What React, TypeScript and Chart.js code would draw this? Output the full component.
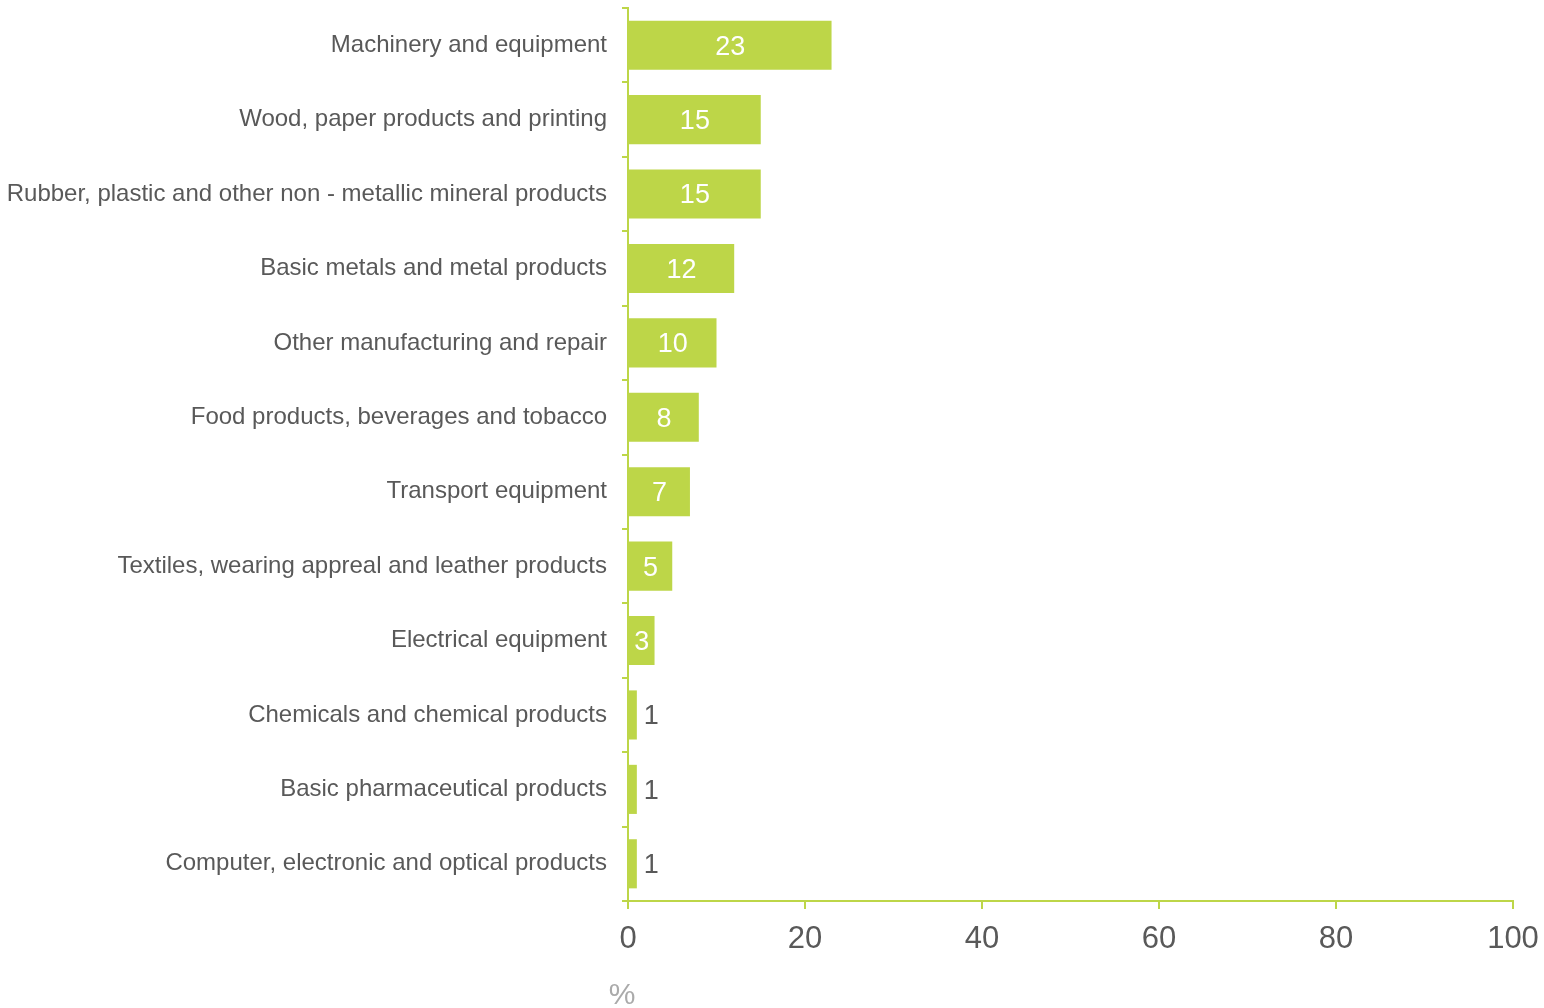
import React, { useEffect, useRef } from "react";
import { Chart, registerables } from "chart.js";

Chart.register(...registerables);

const categories = [
  "Machinery and equipment",
  "Wood, paper products and printing",
  "Rubber, plastic and other non - metallic mineral products",
  "Basic metals and metal products",
  "Other manufacturing and repair",
  "Food products, beverages and tobacco",
  "Transport equipment",
  "Textiles, wearing appreal and leather products",
  "Electrical equipment",
  "Chemicals and chemical products",
  "Basic pharmaceutical products",
  "Computer, electronic and optical products",
];
const values = [23, 15, 15, 12, 10, 8, 7, 5, 3, 1, 1, 1];
const xTicks = [0, 20, 40, 60, 80, 100];
const unitLabel = "%";

const GREEN = "#BDD648";
const TEXT = "#595959";
const FONT = "'Liberation Sans', Arial, sans-serif";

const labelPlugin = {
  id: "valueLabels",
  afterDatasetsDraw(chart: any) {
    const { ctx } = chart;
    const meta = chart.getDatasetMeta(0);
    ctx.save();
    ctx.font = `27px ${FONT}`;
    ctx.textBaseline = "middle";
    meta.data.forEach((bar: any, i: number) => {
      const v = values[i];
      const left = bar.base;
      const right = bar.x;
      if (v >= 3) {
        ctx.fillStyle = "#ffffff";
        ctx.textAlign = "center";
        ctx.fillText(String(v), (left + right) / 2, bar.y + 2);
      } else {
        ctx.fillStyle = TEXT;
        ctx.textAlign = "left";
        ctx.fillText(String(v), right + 7, bar.y + 2);
      }
    });
    ctx.restore();
  },
  afterDraw(chart: any) {
    const { ctx } = chart;
    const x = chart.scales.x.getPixelForValue(0) - 6;
    ctx.save();
    ctx.font = `30px ${FONT}`;
    ctx.fillStyle = "#AAAAAA";
    ctx.textAlign = "center";
    ctx.textBaseline = "middle";
    ctx.fillText(unitLabel, x, 996);
    ctx.restore();
  },
};

export default function App() {
  const ref = useRef<HTMLCanvasElement>(null);
  useEffect(() => {
    if (!ref.current) return;
    const chart = new Chart(ref.current, {
      type: "bar",
      data: {
        labels: categories,
        datasets: [
          {
            data: values,
            backgroundColor: GREEN,
            borderWidth: 0,
            categoryPercentage: 1,
            barPercentage: 0.66,
          },
        ],
      },
      options: {
        indexAxis: "y",
        animation: false,
        responsive: false,
        maintainAspectRatio: false,
        layout: { padding: { top: 8, right: 31, bottom: 0, left: 0 } },
        plugins: {
          legend: { display: false },
          tooltip: { enabled: false },
        },
        scales: {
          y: {
            type: "category",
            offset: true,
            afterFit: (s: any) => {
              s.width = 628;
              s.paddingTop = 0;
              s.paddingBottom = 0;
            },
            grid: {
              display: true,
              offset: true,
              drawOnChartArea: false,
              drawTicks: true,
              tickLength: 6,
              color: GREEN,
              lineWidth: 2,
            },
            border: { display: true, color: GREEN, width: 2 },
            ticks: {
              color: TEXT,
              font: { family: FONT, size: 24 },
              padding: 15,
              autoSkip: false,
            },
          },
          x: {
            type: "linear",
            min: xTicks[0],
            max: xTicks[xTicks.length - 1],
            afterFit: (s: any) => {
              s.height = 107;
              s.paddingLeft = 0;
              s.paddingRight = 0;
            },
            afterBuildTicks: (s: any) => {
              s.ticks = xTicks.map((v) => ({ value: v }));
            },
            grid: {
              display: true,
              drawOnChartArea: false,
              drawTicks: true,
              tickLength: 8,
              color: GREEN,
              lineWidth: 2,
            },
            border: { display: true, color: GREEN, width: 2 },
            ticks: {
              color: TEXT,
              font: { family: FONT, size: 31 },
              padding: 12,
              maxRotation: 0,
            },
          },
        },
      },
      plugins: [labelPlugin],
    } as any);
    return () => chart.destroy();
  }, []);
  return (
    <div style={{ position: "absolute", left: 0, top: 0, width: 1544, height: 1008 }}>
      <canvas ref={ref} width={1544} height={1008} style={{ width: 1544, height: 1008 }} />
    </div>
  );
}
